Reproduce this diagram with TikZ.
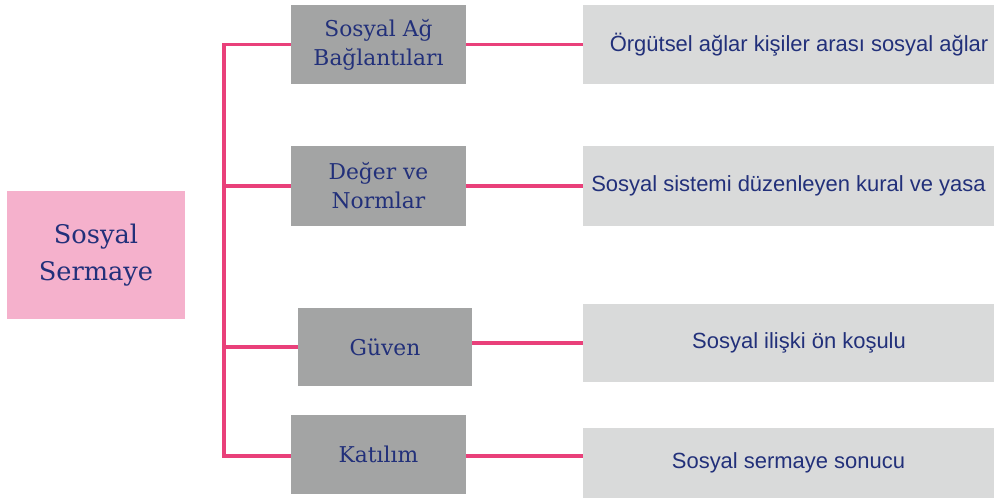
\documentclass[tikz,border=0pt]{standalone}
\usepackage{fontspec}
\setmainfont{DejaVu Serif}
\newfontfamily\rfont{Liberation Sans}
\definecolor{rootpink}{HTML}{F5B1CC}
\definecolor{midgray}{HTML}{A3A4A4}
\definecolor{lightgray}{HTML}{D9DADA}
\definecolor{linkpink}{HTML}{E9407A}
\definecolor{navy}{HTML}{22307A}

\begin{document}
\begin{tikzpicture}[x=0.2mm,y=-0.2mm,
    rootbox/.style={fill=rootpink,text=navy,inner sep=0pt,minimum width=35.6mm,minimum height=25.4mm,align=center,font=\fontsize{14.6pt}{21pt}\selectfont},
    midbox/.style={fill=midgray,text=navy,inner sep=0pt,minimum width=35mm,minimum height=15.8mm,align=center,font=\fontsize{12.4pt}{16.5pt}\selectfont},
    descbox/.style={fill=lightgray,text=navy,inner sep=0pt,minimum width=82.2mm,minimum height=15.8mm,align=center,font=\rfont\fontsize{12.5pt}{14pt}\selectfont},
    link/.style={draw=linkpink,line width=2.2pt}]
            \useasboundingbox (0,0) rectangle (994,503);

            \node (root) at (96,255) [rootbox] {Sosyal\\Sermaye};

            \node (ag) at (378.5,44.5) [midbox] {Sosyal Ağ\\Bağlantıları};
            \node (deger) at (378.5,186) [midbox] {Değer ve\\Normlar};
            \node (guven) at (385,347) [midbox,minimum width=34.8mm,minimum height=15.6mm] {Güven};
            \node (katilim) at (378.5,454.5) [midbox] {Katılım};

            \node (agd) at (788.5,44.5) [descbox] {\hspace*{12pt}Örgütsel ağlar kişiler arası sosyal ağlar};
            \node (degerd) at (788.5,186) [descbox] {Sosyal sistemi düzenleyen kural ve yasa};
            \node (guvend) at (788.5,343) [descbox,minimum height=15.6mm] {\hspace*{12pt}Sosyal ilişki ön koşulu};
            \node (katilimd) at (788.5,463) [descbox,minimum height=14mm] {Sosyal sermaye sonucu};

            \coordinate (j1) at (224,44.5);
            \coordinate (j4) at (224,456);

            \draw[link] (ag.west) -- (j1) -- (j4) -- (j4 -| katilim.west);
            \draw[link] (deger.west) -- (deger.west -| j1) (guven.west) -- (guven.west -| j1);
            \draw[link] (ag.east) -- (agd.west) (deger.east) -- (degerd.west) (guven.east |- guvend.west) -- (guvend.west) (katilim.east |- 0,456) -- (katilimd.west |- 0,456);

        \end{tikzpicture}
\end{document}
